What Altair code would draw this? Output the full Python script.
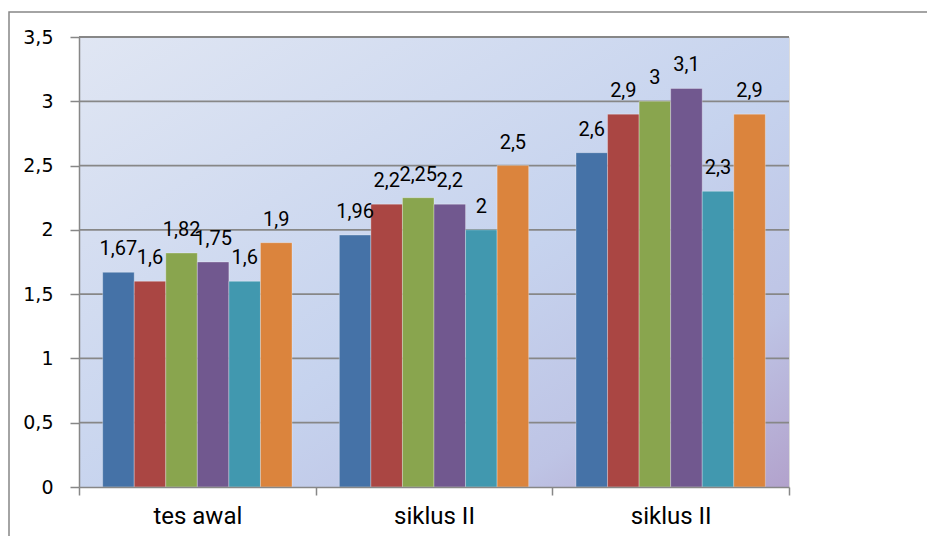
import altair as alt
import pandas as pd
import json

# ---- data ----
categories = ["tes awal", "siklus II", "siklus II"]
series = ["s1", "s2", "s3", "s4", "s5", "s6"]
values_tes_awal = [1.67, 1.6, 1.82, 1.75, 1.6, 1.9]
values_siklus_a = [1.96, 2.2, 2.25, 2.2, 2.0, 2.5]
values_siklus_b = [2.6, 2.9, 3.0, 3.1, 2.3, 2.9]
y_ticks = [0, 0.5, 1, 1.5, 2, 2.5, 3, 3.5]
colors = ["#4572A7", "#AA4643", "#89A54E", "#71588F", "#4198AF", "#DB843D"]

W, H = 710, 450
GREY = "#878787"
FONT = "Roboto"

keys = [str(i) for i in range(len(categories))]
rows = []
for k, vals in zip(keys, [values_tes_awal, values_siklus_a, values_siklus_b]):
    for s, v in zip(series, vals):
        rows.append({"key": k, "series": s, "value": v})
df = pd.DataFrame(rows)

label_expr = json.dumps(categories) + "[toNumber(datum.value)]"

x_enc = alt.X(
    "key:N",
    sort=keys,
    scale=alt.Scale(domain=keys, paddingInner=0, paddingOuter=0),
    axis=alt.Axis(
        title=None, labelExpr=label_expr, labelAngle=0, labelFontSize=24,
        labelFont=FONT, labelColor="#000000", labelPadding=9,
        tickBand="extent", tickSize=8, tickColor=GREY, tickWidth=1.5,
        domainColor=GREY, domainWidth=1.5, zindex=1, grid=False,
    ),
)
xoff_enc = alt.XOffset(
    "series:N",
    scale=alt.Scale(domain=series, paddingInner=0, paddingOuter=0.75),
)
y_scale = alt.Scale(domain=[0, 3.5], nice=False, zero=True)
y_axis = alt.Axis(
    title=None, values=y_ticks, grid=False,
    labelExpr="replace(format(datum.value, '~g'), '.', ',')",
    labelFontSize=19, labelFont="DejaVu Sans", labelColor="#000000", labelPadding=17,
    tickSize=9, tickColor=GREY, tickWidth=1.5,
    domainColor=GREY, domainWidth=1.5, zindex=1,
)
y_enc = alt.Y("value:Q", scale=y_scale, axis=y_axis)

bg = alt.Chart(pd.DataFrame({"a": [0]})).mark_rect(
    fill=alt.LinearGradient(
        gradient="linear", x1=0, y1=0, x2=1, y2=1,
        stops=[
            alt.GradientStop(offset=0, color="#e0e6f3"),
            alt.GradientStop(offset=0.55, color="#c6d3ee"),
            alt.GradientStop(offset=0.8, color="#bec4e5"),
            alt.GradientStop(offset=1, color="#b2a2cc"),
        ],
    )
).encode(x=alt.value(0), x2=alt.value(W), y=alt.value(0), y2=alt.value(H))

grid = alt.Chart(pd.DataFrame({"value": y_ticks[1:]})).mark_rule(
    color=GREY, strokeWidth=1.8
).encode(y=y_enc)

bars = alt.Chart(df).mark_bar(
    stroke="#ffffff", strokeOpacity=0.3, strokeWidth=1
).encode(
    x=x_enc, xOffset=xoff_enc, y=y_enc,
    color=alt.Color("series:N", scale=alt.Scale(domain=series, range=colors), legend=None),
)

labels = alt.Chart(df).transform_calculate(
    label="replace(format(datum.value, '.3~g'), '.', ',')"
).mark_text(
    baseline="alphabetic", align="center", dy=-17, fontSize=20, font=FONT, color="#000000"
).encode(
    x=x_enc, xOffset=xoff_enc, y=y_enc, text="label:N",
)

frame = alt.Chart(pd.DataFrame({"a": [0]})).mark_rect(
    filled=False, stroke=GREY, strokeWidth=1.5
).encode(x=alt.value(-70), x2=alt.value(880), y=alt.value(-25), y2=alt.value(560))

chart = alt.layer(bg, grid, bars, labels, frame).properties(
    width=W, height=H,
    autosize=alt.AutoSizeParams(type="none"),
    padding={"left": 71, "top": 29, "right": 138, "bottom": 49},
).configure_view(strokeWidth=0).configure(font=FONT)

chart.save("out.html", embed_options={"renderer": "svg", "actions": False})
